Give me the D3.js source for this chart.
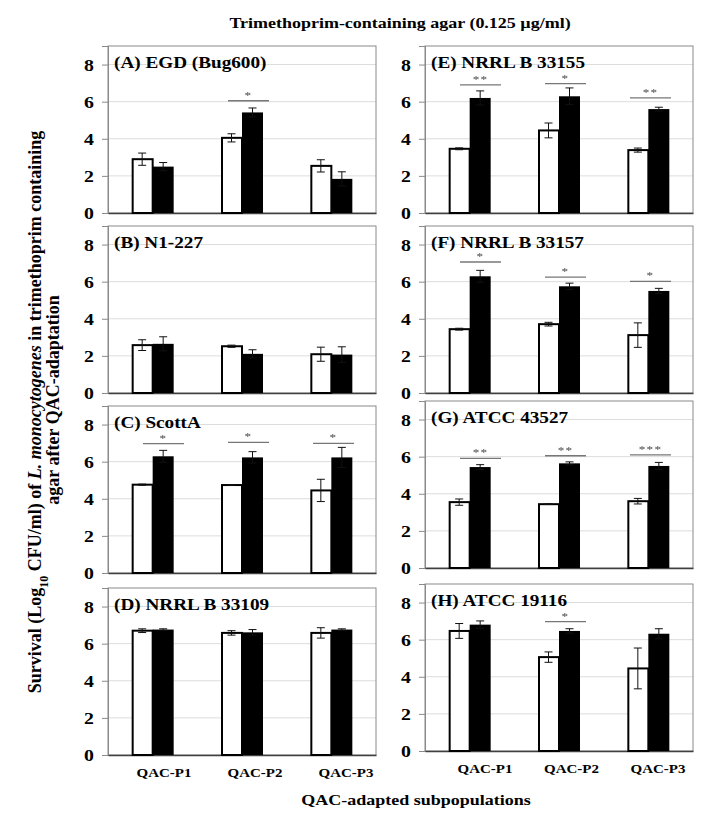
<!DOCTYPE html>
<html>
<head>
<meta charset="utf-8">
<script src="https://cdn.jsdelivr.net/npm/d3@7"></script>
<style>
  html, body { margin: 0; padding: 0; background: #fff; }
  svg { display: block; }
  text { font-family: "Liberation Serif", "Times New Roman", serif; font-weight: bold; fill: #000; }
</style>
</head>
<body>
<svg id="chart" width="713" height="819"></svg>
<script>
// ---------------- DATA ----------------
const categories = ["QAC-P1", "QAC-P2", "QAC-P3"];
const panelTitles = [
  "(A) EGD (Bug600)", "(B) N1-227", "(C) ScottA", "(D) NRRL B 33109",
  "(E) NRRL B 33155", "(F) NRRL B 33157", "(G) ATCC 43527", "(H) ATCC 19116"
];
const yTicks = [0, 2, 4, 6, 8];

// open (white) bars: means and SD, one row per panel A..H
const whiteMeans = [
  [2.90, 4.05, 2.54],
  [2.58, 2.52, 2.09],
  [4.76, 4.74, 4.45],
  [6.70, 6.58, 6.58],
  [3.46, 4.45, 3.39],
  [3.44, 3.71, 3.12],
  [3.55, 3.44, 3.60],
  [6.47, 5.06, 4.45]
];
const whiteErr = [
  [0.33, 0.22, 0.33],
  [0.29, 0.06, 0.38],
  [0.03, 0.02, 0.60],
  [0.10, 0.12, 0.28],
  [0.05, 0.40, 0.11],
  [0.05, 0.10, 0.66],
  [0.17, 0.02, 0.15],
  [0.40, 0.28, 1.10]
];
// filled (black) bars
const blackMeans = [
  [2.50, 5.42, 1.84],
  [2.65, 2.11, 2.07],
  [6.29, 6.23, 6.23],
  [6.76, 6.61, 6.76],
  [6.20, 6.29, 5.60],
  [6.29, 5.75, 5.50],
  [5.44, 5.64, 5.50],
  [6.81, 6.47, 6.32]
];
const blackErr = [
  [0.22, 0.24, 0.38],
  [0.38, 0.22, 0.42],
  [0.32, 0.31, 0.54],
  [0.04, 0.15, 0.04],
  [0.38, 0.45, 0.10],
  [0.32, 0.17, 0.14],
  [0.13, 0.08, 0.19],
  [0.20, 0.12, 0.27]
];
// significance markers and the level of their bracket line
const sigLabels = [
  ["", "*", ""],
  ["", "", ""],
  ["*", "*", "*"],
  ["", "", ""],
  ["**", "*", "**"],
  ["*", "*", "*"],
  ["**", "**", "***"],
  ["", "*", ""]
];
const sigLevels = [
  [null, 6.05, null],
  [null, null, null],
  [6.97, 7.04, 6.99],
  [null, null, null],
  [6.90, 6.97, 6.20],
  [7.06, 6.25, 6.02],
  [5.91, 6.05, 6.10],
  [null, 6.97, null]
];

// ---------------- LAYOUT ----------------
const colLeft = [108, 425];
const panelW = 268;
const panelH = 167;
const panelTops = [[46, 226, 406, 588], [46, 226, 401, 584]];
const SX = 1.2; // horizontal glyph stretch seen in the reference

const svg = d3.select("#chart");

// grey-only filter for the small significance marks
svg.append("defs").append("filter").attr("id", "grey")
  .append("feColorMatrix").attr("type", "saturate").attr("values", 0);

function hText(g, x, y, str, size, anchor) {
  return g.append("text")
    .attr("transform", `translate(${x},${y}) scale(${SX},1)`)
    .attr("text-anchor", anchor || "start")
    .style("font-size", size + "px")
    .text(str);
}

panelTitles.forEach((title, p) => {
  const col = Math.floor(p / 4), row = p % 4;
  const left = colLeft[col], top = panelTops[col][row];
  const g = svg.append("g");

  const y = d3.scaleLinear().domain([0, 9]).range([top + panelH, top]);
  const x = d3.scaleBand().domain(categories).range([left, left + panelW]);
  const sub = d3.scaleBand().domain(["white", "black"]).range([-21, 21]);
  const sigX = d3.scalePoint().domain(categories).range([left + 55.5, left + 225.5]);

  // gridlines
  g.selectAll("line.grid").data(yTicks.filter(t => t > 0)).join("line")
    .attr("x1", left).attr("x2", left + panelW)
    .attr("y1", d => y(d)).attr("y2", d => y(d))
    .attr("stroke", "#dcdcdc").attr("stroke-width", 1);

  // frame
  g.append("rect").attr("x", left).attr("y", top)
    .attr("width", panelW).attr("height", panelH)
    .attr("fill", "none").attr("stroke", "#8a8a8a").attr("stroke-width", 1);

  // y axis
  const yAxis = d3.axisLeft(y).tickValues(yTicks).tickSize(6).tickPadding(7).tickFormat(d3.format("d"));
  const ya = g.append("g").attr("transform", `translate(${left},0)`).call(yAxis);
  ya.select(".domain").attr("stroke", "#8a8a8a");
  ya.selectAll(".tick line").attr("stroke", "#8a8a8a");
  ya.selectAll(".tick text").remove();
  yTicks.forEach(t => {
    hText(g, left - 14, y(t) + 6, String(t), 16.5, "end");
  });

  // x axis baseline
  const xa = g.append("g").attr("transform", `translate(0,${y(0)})`)
    .call(d3.axisBottom(x).tickSize(0).tickFormat(""));
  xa.select(".domain").attr("stroke", "#404040").attr("stroke-width", 1.5);

  // bars
  const rows = categories.map((c, i) => ({
    c,
    w: whiteMeans[p][i], we: whiteErr[p][i],
    b: blackMeans[p][i], be: blackErr[p][i],
    s: sigLabels[p][i], sl: sigLevels[p][i]
  }));

  rows.forEach(d => {
    const cx = x(d.c) + x.bandwidth() / 2;
    // white bar
    g.append("rect")
      .attr("x", cx + sub("white") + 1).attr("y", y(d.w))
      .attr("width", sub.bandwidth() - 1).attr("height", y(0) - y(d.w))
      .attr("fill", "#fff").attr("stroke", "#000").attr("stroke-width", 2);
    // black bar
    g.append("rect")
      .attr("x", cx + sub("black")).attr("y", y(d.b))
      .attr("width", sub.bandwidth()).attr("height", y(0) - y(d.b))
      .attr("fill", "#000");
    // error bars
    [[d.w, d.we, "white"], [d.b, d.be, "black"]].forEach(([m, e, k]) => {
      const ex = cx + sub(k) + sub.bandwidth() / 2;
      const eg = g.append("g").attr("stroke", "#111").attr("stroke-width", 1);
      eg.append("line").attr("x1", ex).attr("x2", ex).attr("y1", y(m + e)).attr("y2", y(m - e));
      eg.append("line").attr("x1", ex - 4).attr("x2", ex + 4).attr("y1", y(m + e)).attr("y2", y(m + e));
      eg.append("line").attr("x1", ex - 4).attr("x2", ex + 4).attr("y1", y(m - e)).attr("y2", y(m - e));
    });
    // significance
    if (d.s) {
      const sx = sigX(d.c);
      g.append("line").attr("x1", sx - 20.5).attr("x2", sx + 20.5)
        .attr("y1", y(d.sl)).attr("y2", y(d.sl))
        .attr("stroke", "#777").attr("stroke-width", 1.3);
      const sg = g.append("g").attr("filter", "url(#grey)");
      hText(sg, sx, y(d.sl) - 2, d.s, 11, "middle")
        .style("font-weight", "normal").style("fill", "#444")
        .style("letter-spacing", "1px");
    }
  });

  // panel title
  hText(g, left + 6, top + 22, title, 16);

  // category labels on bottom row
  if (row === 3) {
    const lx = d3.scalePoint().domain(categories)
      .range(col === 0 ? [left + 56, left + 238] : [left + 60, left + 233]);
    categories.forEach(c => hText(g, lx(c), y(0) + 22, c, 12.5, "middle"));
  }
});

// overall titles
hText(svg, 400, 28, "Trimethoprim-containing agar (0.125 \u00b5g/ml)", 15, "middle");
hText(svg, 416, 805, "QAC-adapted subpopulations", 15, "middle");

// y-axis title (two lines, rotated)
const yt1 = svg.append("text")
  .attr("transform", "translate(41,412) rotate(-90)")
  .attr("text-anchor", "middle")
  .style("font-size", "18px");
yt1.append("tspan").text("Survival (Log");
yt1.append("tspan").attr("baseline-shift", "sub").style("font-size", "12px").text("10");
yt1.append("tspan").text(" CFU/ml) of ");
yt1.append("tspan").style("font-style", "italic").text("L. monocytogenes");
yt1.append("tspan").text(" in trimethoprim containing");

svg.append("text")
  .attr("transform", "translate(59,400) rotate(-90)")
  .attr("text-anchor", "middle")
  .style("font-size", "18px")
  .text("agar after QAC-adaptation");
</script>
</body>
</html>
